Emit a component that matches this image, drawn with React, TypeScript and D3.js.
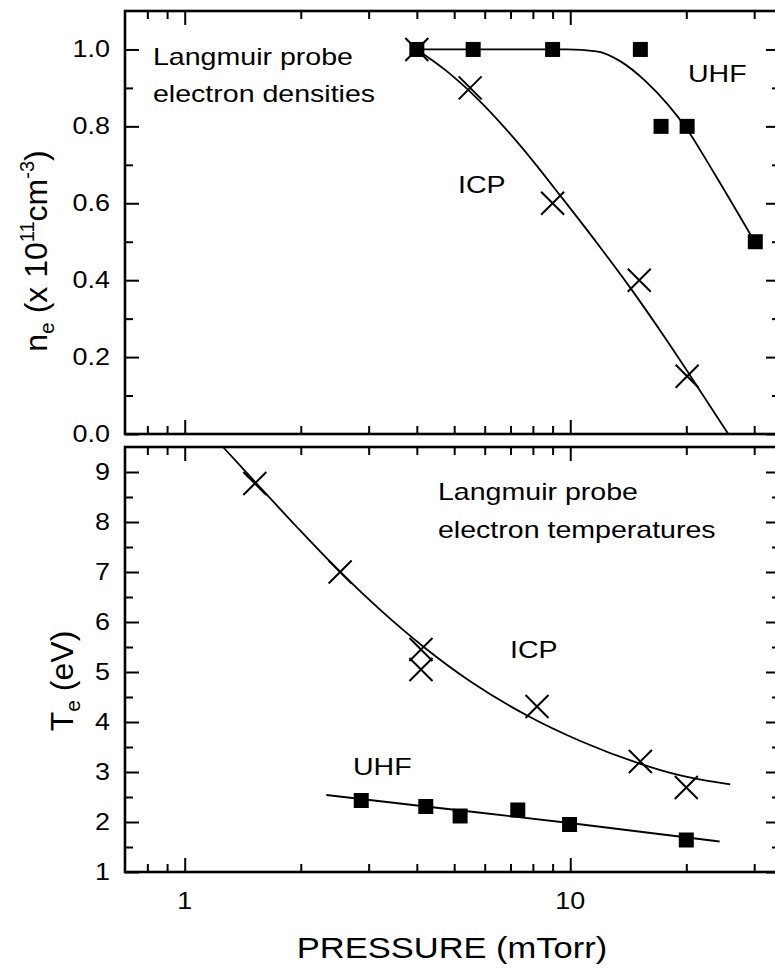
import React, { useEffect, useRef } from 'react';
import * as d3 from 'd3';

// pressure axis (mTorr), log scale
const pressureMajor = [1, 10];
const pressureMinor = [0.8, 0.9, 2, 3, 4, 5, 6, 7, 8, 9, 20, 30];
const pressureLabels = ['1', '10'];

// top panel: electron density (x 1e11 cm^-3)
const densityMajor = [0, 0.2, 0.4, 0.6, 0.8, 1.0];
const densityMinor = [0.1, 0.3, 0.5, 0.7, 0.9];
const densityLabels = ['0.0', '0.2', '0.4', '0.6', '0.8', '1.0'];

const icpDensityP = [4.0, 5.5, 9.0, 15.1, 20.1];
const icpDensity = [1.0, 0.9, 0.6, 0.4, 0.15];
const uhfDensityP = [4.0, 5.6, 9.0, 15.2, 17.2, 20.1, 30.2];
const uhfDensity = [1.0, 1.0, 1.0, 1.0, 0.8, 0.8, 0.5];

// fitted curves
const icpDensityFitP = [4.0, 4.79, 5.73, 7.42, 9.59, 11.97, 14.58, 17.65, 20.5, 25.7];
const icpDensityFit = [1.0, 0.943, 0.873, 0.75, 0.61, 0.485, 0.369, 0.249, 0.151, 0.0];
const uhfDensityFitP = [4.0, 9.8, 11.7, 13.5, 15.7, 17.9, 20.1, 23.5, 30.2];
const uhfDensityFit = [1.0, 1.0, 0.995, 0.969, 0.917, 0.857, 0.792, 0.682, 0.497];

// bottom panel: electron temperature (eV)
const tempMajor = [1, 2, 3, 4, 5, 6, 7, 8, 9];
const tempMinor = [1.5, 2.5, 3.5, 4.5, 5.5, 6.5, 7.5, 8.5];
const tempLabels = ['1', '2', '3', '4', '5', '6', '7', '8', '9'];

const icpTempP = [1.52, 2.53, 4.1, 4.1, 8.2, 15.2, 20.0];
const icpTemp = [8.77, 7.0, 5.45, 5.05, 4.31, 3.21, 2.69];
const uhfTempP = [2.87, 4.22, 5.18, 7.31, 9.96, 20.0];
const uhfTemp = [2.43, 2.31, 2.12, 2.24, 1.95, 1.64];

const icpTempFitP = [1.257, 1.538, 1.954, 2.527, 3.21, 4.2, 5.5, 7.73, 10.62, 15.2, 19.3, 26.0];
const icpTempFit = [9.5, 8.764, 7.9, 7.006, 6.246, 5.48, 4.814, 4.13, 3.62, 3.164, 2.932, 2.752];
const uhfTempFitP = [2.33, 4.22, 9.96, 24.4];
const uhfTempFit = [2.54, 2.31, 1.98, 1.61];

const FONT = '"Liberation Sans", Arial, Helvetica, sans-serif';
const W = 775;
const H = 968;

export default function App() {
  const ref = useRef<SVGSVGElement>(null);

  useEffect(() => {
    const svg = d3.select(ref.current);
    svg.selectAll('*').remove();
    svg.attr('font-family', FONT);

    const left = 125;
    const right = 780;
    const x = d3.scaleLog().domain([0.7, 35]).range([left, right]);

    const yTop = d3.scaleLinear().domain([0, 1.1]).range([434, 11]);
    const yBot = d3.scaleLinear().domain([1, 9.5]).range([872, 447]);

    const text = (
      g: any,
      t: string,
      tx: number,
      ty: number,
      size: number,
      sx: number,
      anchor = 'start'
    ) =>
      g
        .append('text')
        .attr('transform', `translate(${tx},${ty}) scale(${sx},1)`)
        .attr('font-size', size)
        .attr('text-anchor', anchor)
        .attr('fill', '#000')
        .text(t);

    const drawPanel = (y: any, major: number[], minor: number[], labels: string[]) => {
      const [bottom, top] = y.range();
      const g = svg.append('g');

      const tickStyle = (sel: any) => {
        sel.select('.domain').remove();
        sel.selectAll('line').attr('stroke', '#000').attr('stroke-width', 2);
      };

      // x ticks on bottom and top edges, pointing inward
      const xAxes = [
        [d3.axisBottom(x), bottom],
        [d3.axisTop(x), top],
      ] as const;
      xAxes.forEach(([axis, pos]) => {
        g.append('g')
          .attr('transform', `translate(0,${pos})`)
          .call((axis as any).tickValues(pressureMajor).tickSize(-14).tickFormat(() => ''))
          .call(tickStyle);
        g.append('g')
          .attr('transform', `translate(0,${pos})`)
          .call((axis as any).tickValues(pressureMinor).tickSize(-8).tickFormat(() => ''))
          .call(tickStyle);
      });

      // y ticks on left and right edges
      const yAxes = [
        [d3.axisLeft(y), left],
        [d3.axisRight(y), right],
      ] as const;
      yAxes.forEach(([axis, pos]) => {
        g.append('g')
          .attr('transform', `translate(${pos},0)`)
          .call((axis as any).tickValues(major).tickSize(-14).tickFormat(() => ''))
          .call(tickStyle);
        g.append('g')
          .attr('transform', `translate(${pos},0)`)
          .call((axis as any).tickValues(minor).tickSize(-8).tickFormat(() => ''))
          .call(tickStyle);
      });

      g.append('rect')
        .attr('x', left)
        .attr('y', top)
        .attr('width', right - left)
        .attr('height', bottom - top)
        .attr('fill', 'none')
        .attr('stroke', '#000')
        .attr('stroke-width', 2.6);

      major.forEach((v, i) => {
        text(g, labels[i], 110, y(v) + 8, 23, 1.17, 'end');
      });
      return g;
    };

    const gTop = drawPanel(yTop, densityMajor, densityMinor, densityLabels);
    const gBot = drawPanel(yBot, tempMajor, tempMinor, tempLabels);

    const lineOf = (y: any) =>
      d3
        .line<[number, number]>()
        .x((d) => x(d[0]))
        .y((d) => y(d[1]))
        .curve(d3.curveMonotoneX);

    const drawFit = (g: any, y: any, px: number[], py: number[]) => {
      g.append('path')
        .datum(px.map((p, i) => [p, py[i]]))
        .attr('d', lineOf(y))
        .attr('fill', 'none')
        .attr('stroke', '#000')
        .attr('stroke-width', 1.8);
    };

    const drawCrosses = (g: any, y: any, px: number[], py: number[]) => {
      const s = 11.5;
      g.selectAll(null)
        .data(px.map((p, i) => [p, py[i]]))
        .join('path')
        .attr('transform', (d: number[]) => `translate(${x(d[0])},${y(d[1])})`)
        .attr('d', `M${-s},${-s}L${s},${s}M${-s},${s}L${s},${-s}`)
        .attr('stroke', '#000')
        .attr('stroke-width', 2)
        .attr('fill', 'none');
    };

    const drawSquares = (g: any, y: any, px: number[], py: number[]) => {
      const s = 15;
      g.selectAll(null)
        .data(px.map((p, i) => [p, py[i]]))
        .join('rect')
        .attr('x', (d: number[]) => x(d[0]) - s / 2)
        .attr('y', (d: number[]) => y(d[1]) - s / 2)
        .attr('width', s)
        .attr('height', s)
        .attr('fill', '#000');
    };

    drawFit(gTop, yTop, icpDensityFitP, icpDensityFit);
    drawFit(gTop, yTop, uhfDensityFitP, uhfDensityFit);
    drawSquares(gTop, yTop, uhfDensityP, uhfDensity);
    drawCrosses(gTop, yTop, icpDensityP, icpDensity);

    drawFit(gBot, yBot, icpTempFitP, icpTempFit);
    drawFit(gBot, yBot, uhfTempFitP, uhfTempFit);
    drawSquares(gBot, yBot, uhfTempP, uhfTemp);
    drawCrosses(gBot, yBot, icpTempP, icpTemp);

    // annotations
    text(svg, 'Langmuir probe', 153, 65, 24, 1.19);
    text(svg, 'electron densities', 153, 102, 24, 1.19);
    text(svg, 'UHF', 688, 82, 24, 1.19);
    text(svg, 'ICP', 458, 193, 24, 1.19);
    text(svg, 'Langmuir probe', 438, 500, 24, 1.19);
    text(svg, 'electron temperatures', 438, 538, 24, 1.19);
    text(svg, 'ICP', 510, 658, 24, 1.19);
    text(svg, 'UHF', 353, 775, 24, 1.19);

    // x tick labels and title
    pressureMajor.forEach((v, i) => {
      text(svg, pressureLabels[i], x(v), 909, 23, 1.17, 'middle');
    });
    text(svg, 'PRESSURE (mTorr)', 452, 958, 30, 1.15, 'middle');

    // y titles
    const t1 = svg
      .append('text')
      .attr('transform', 'translate(47,251) rotate(-90)')
      .attr('text-anchor', 'middle')
      .attr('font-size', 32);
    t1.append('tspan').text('n');
    t1.append('tspan').attr('font-size', 21).attr('dy', 7).text('e');
    t1.append('tspan').attr('dy', -7).text(' (x 10');
    t1.append('tspan').attr('font-size', 20).attr('dy', -13).text('11');
    t1.append('tspan').attr('dy', 13).text('cm');
    t1.append('tspan').attr('font-size', 20).attr('dy', -13).text('-3');
    t1.append('tspan').attr('dy', 13).text(')');

    const t2 = svg
      .append('text')
      .attr('transform', 'translate(73,681) rotate(-90)')
      .attr('text-anchor', 'middle')
      .attr('font-size', 32);
    t2.append('tspan').text('T');
    t2.append('tspan').attr('font-size', 21).attr('dy', 7).text('e');
    t2.append('tspan').attr('dy', -7).text(' (eV)');
  }, []);

  return (
    <svg
      ref={ref}
      width={W}
      height={H}
      style={{ position: 'absolute', left: 0, top: 0, background: '#fff' }}
    />
  );
}
